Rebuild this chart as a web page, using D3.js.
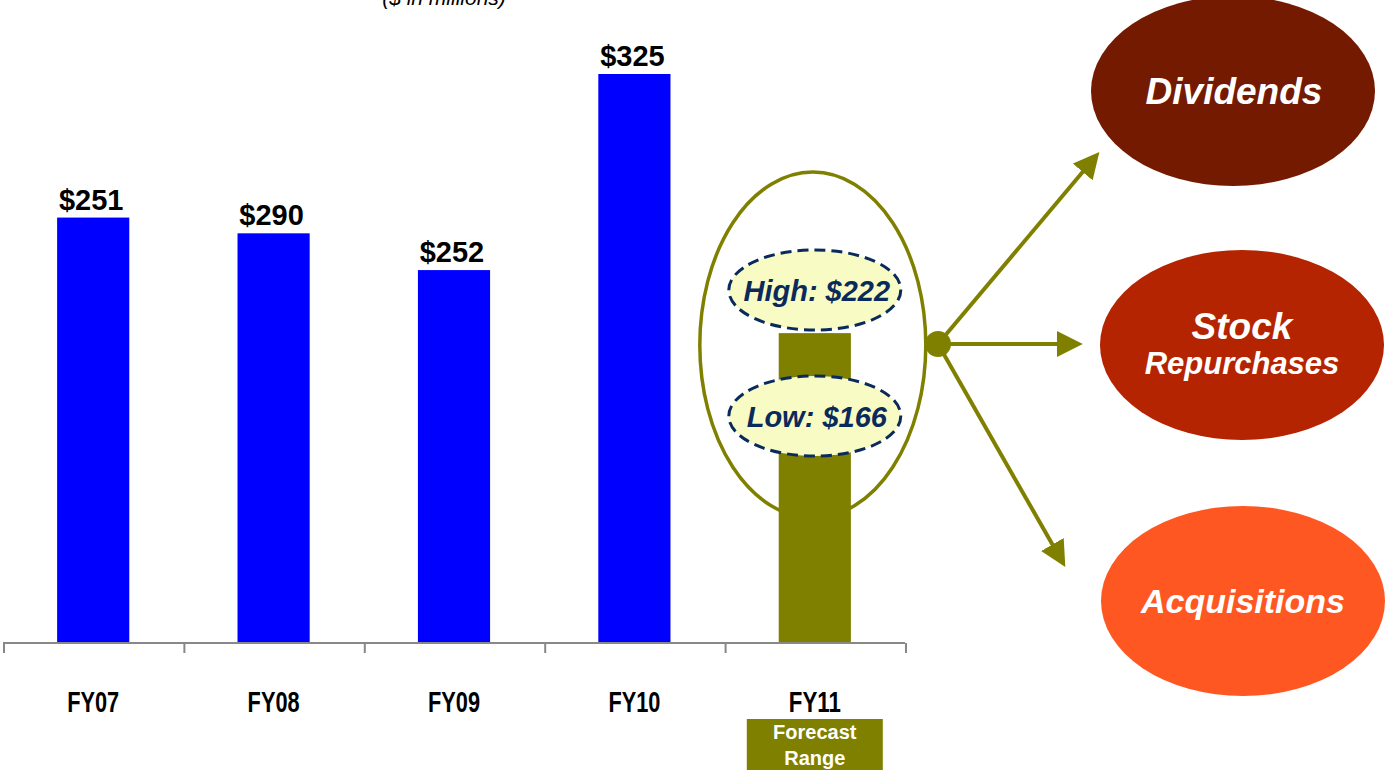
<!DOCTYPE html>
<html>
<head>
<meta charset="utf-8">
<script src="https://cdn.jsdelivr.net/npm/d3@7"></script>
<style>
  body { margin: 0; background: #fff; }
  svg { display: block; }
</style>
</head>
<body>
<script>
// chart data
var years = ["FY07", "FY08", "FY09", "FY10", "FY11"];
var barLabels = ["$251", "$290", "$252", "$325"];
// bar heights as drawn in the picture (they do not follow the labels)
var barValues = [243, 234, 213, 325, 177];
var rangeLabels = ["High: $222", "Low: $166"];
var uses = ["Dividends", "Stock", "Acquisitions"];

var w = 1385, h = 770;
var olive = "#808000";

var svg = d3.select("body").append("svg")
    .attr("width", w)
    .attr("height", h);

var x = d3.scaleBand()
    .domain(years)
    .range([3, 905])
    .paddingInner(0.6)
    .paddingOuter(0.3);

var y = d3.scaleLinear()
    .domain([0, 325])
    .range([643, 74]);

// subtitle, cut off at the top like the slide
svg.append("text")
    .attr("x", 444).attr("y", 5)
    .attr("text-anchor", "middle")
    .style("font", "italic 21px 'Liberation Sans', Arial, sans-serif")
    .attr("fill", "#000")
    .text("($ in millions)");

// bars
svg.selectAll("rect.bar")
    .data(barValues)
    .enter().append("rect")
    .attr("class", "bar")
    .attr("x", function(d, i) { return x(years[i]); })
    .attr("y", function(d) { return y(d); })
    .attr("width", x.bandwidth())
    .attr("height", function(d) { return y(0) - y(d); })
    .attr("fill", function(d, i) { return i < 4 ? "#0000ff" : olive; });

// value labels
svg.selectAll("text.val")
    .data(barLabels)
    .enter().append("text")
    .attr("class", "val")
    .attr("x", function(d, i) { return x(years[i]) + x.bandwidth() / 2 - 2; })
    .attr("y", function(d, i) { return y(barValues[i]) - 8; })
    .attr("text-anchor", "middle")
    .style("font", "bold 29px 'Liberation Sans', Arial, sans-serif")
    .text(function(d) { return d; });

// axis
var axisG = svg.append("g");
axisG.append("line")
    .attr("x1", 3).attr("x2", 905)
    .attr("y1", 643).attr("y2", 643)
    .attr("stroke", "#888").attr("stroke-width", 2);
var step = x.step();
axisG.selectAll("line.tick")
    .data(d3.range(years.length + 1))
    .enter().append("line")
    .attr("class", "tick")
    .attr("x1", function(i) { return 4 + i * step; })
    .attr("x2", function(i) { return 4 + i * step; })
    .attr("y1", 643).attr("y2", 653)
    .attr("stroke", "#888").attr("stroke-width", 2);

svg.selectAll("text.cat")
    .data(years)
    .enter().append("text")
    .attr("class", "cat")
    .attr("x", function(d) { return x(d) + x.bandwidth() / 2; })
    .attr("y", 712)
    .attr("text-anchor", "middle")
    .attr("textLength", 52)
    .attr("lengthAdjust", "spacingAndGlyphs")
    .style("font", "bold 30px 'Liberation Sans', Arial, sans-serif")
    .text(function(d) { return d; });

// forecast range tag
var fx = x("FY11") + x.bandwidth() / 2;
svg.append("rect")
    .attr("x", fx - 68).attr("y", 719)
    .attr("width", 136).attr("height", 51)
    .attr("fill", olive);
svg.append("text")
    .attr("x", fx).attr("y", 739)
    .attr("text-anchor", "middle")
    .attr("fill", "#fff")
    .style("font", "bold 20px 'Liberation Sans', Arial, sans-serif")
    .text("Forecast");
svg.append("text")
    .attr("x", fx).attr("y", 765)
    .attr("text-anchor", "middle")
    .attr("fill", "#fff")
    .style("font", "bold 20px 'Liberation Sans', Arial, sans-serif")
    .text("Range");

// big olive ellipse round forecast
svg.append("ellipse")
    .attr("cx", fx - 2).attr("cy", 345)
    .attr("rx", 113).attr("ry", 173)
    .attr("fill", "none")
    .attr("stroke", olive).attr("stroke-width", 3.5);

// high / low bubbles
var bubbleY = [290, 416];
svg.selectAll("ellipse.bub")
    .data(rangeLabels)
    .enter().append("ellipse")
    .attr("class", "bub")
    .attr("cx", fx)
    .attr("cy", function(d, i) { return bubbleY[i]; })
    .attr("rx", 86).attr("ry", 40)
    .attr("fill", "#f8fcc4")
    .attr("stroke", "#0b2a5c")
    .attr("stroke-width", 3)
    .attr("stroke-dasharray", "11,6");
svg.selectAll("text.bub")
    .data(rangeLabels)
    .enter().append("text")
    .attr("class", "bub")
    .attr("x", fx + 2)
    .attr("y", function(d, i) { return bubbleY[i] + 11; })
    .attr("text-anchor", "middle")
    .attr("fill", "#0b2a5c")
    .style("font", "italic bold 29px 'Liberation Sans', Arial, sans-serif")
    .text(function(d) { return d; });

// arrows
var defs = svg.append("defs");
defs.append("marker")
    .attr("id", "head")
    .attr("viewBox", "0 0 10 10")
    .attr("refX", 2).attr("refY", 5)
    .attr("markerWidth", 6.5).attr("markerHeight", 6.5)
    .attr("markerUnits", "strokeWidth")
    .attr("orient", "auto")
    .append("path")
    .attr("d", "M0,0 L10,5 L0,10 Z")
    .attr("fill", olive);

var hub = [938, 344];
var ends = [[1086, 168], [1062, 344], [1055, 549]];
svg.selectAll("line.arrow")
    .data(ends)
    .enter().append("line")
    .attr("class", "arrow")
    .attr("x1", hub[0]).attr("y1", hub[1])
    .attr("x2", function(d) { return d[0]; })
    .attr("y2", function(d) { return d[1]; })
    .attr("stroke", olive).attr("stroke-width", 4)
    .attr("marker-end", "url(#head)");
svg.append("circle")
    .attr("cx", hub[0]).attr("cy", hub[1])
    .attr("r", 13).attr("fill", olive);

// uses of cash
var useX = [1233, 1242, 1243];
var useY = [91, 345, 601];
var useColors = ["#741a00", "#b52400", "#ff5722"];
svg.selectAll("ellipse.use")
    .data(uses)
    .enter().append("ellipse")
    .attr("class", "use")
    .attr("cx", function(d, i) { return useX[i]; })
    .attr("cy", function(d, i) { return useY[i]; })
    .attr("rx", 142).attr("ry", 95)
    .attr("fill", function(d, i) { return useColors[i]; });

var useFont = "italic bold 37px 'Liberation Sans', Arial, sans-serif";
svg.append("text")
    .attr("x", useX[0] + 1).attr("y", useY[0] + 13)
    .attr("text-anchor", "middle").attr("fill", "#fff")
    .style("font", useFont).text("Dividends");
svg.append("text")
    .attr("x", useX[1]).attr("y", useY[1] - 6)
    .attr("text-anchor", "middle").attr("fill", "#fff")
    .style("font", useFont).text("Stock");
svg.append("text")
    .attr("x", useX[1]).attr("y", useY[1] + 29)
    .attr("text-anchor", "middle").attr("fill", "#fff")
    .style("font", "italic bold 31px 'Liberation Sans', Arial, sans-serif")
    .text("Repurchases");
svg.append("text")
    .attr("x", useX[2]).attr("y", useY[2] + 12)
    .attr("text-anchor", "middle").attr("fill", "#fff")
    .style("font", "italic bold 34px 'Liberation Sans', Arial, sans-serif")
    .text("Acquisitions");
</script>
</body>
</html>
